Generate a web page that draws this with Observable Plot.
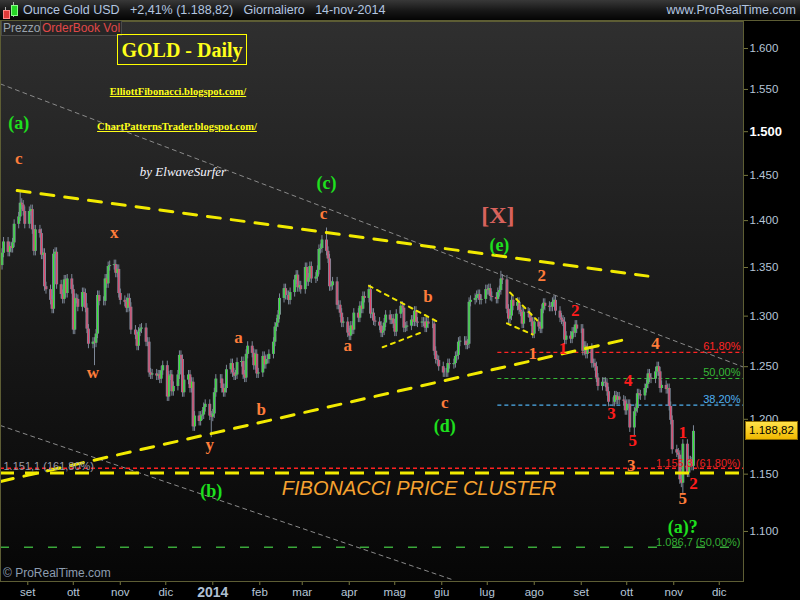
<!DOCTYPE html>
<html>
<head>
<meta charset="utf-8">
<script src="https://cdn.jsdelivr.net/npm/d3@7"></script>
<script src="https://cdn.jsdelivr.net/npm/@observablehq/plot@0.6"></script>
<style>
html,body{margin:0;padding:0;background:#000;}
#wrap{position:relative;width:800px;height:600px;overflow:hidden;background:#000;font-family:"Liberation Sans",Arial,sans-serif;}
#header{position:absolute;left:0;top:0;width:800px;height:20px;background:linear-gradient(#383838,#161616 55%,#040404);border-bottom:1px solid #5d5d34;}
#htext{position:absolute;left:23px;top:3px;font-size:12.5px;color:#b3c6e0;white-space:pre;}
#hsite{position:absolute;right:4px;top:3px;font-size:12.5px;color:#b3c6e0;}
.ic{position:absolute;}
#bg{position:absolute;left:0;top:21px;width:743px;height:560px;background:linear-gradient(#2f2f2f,#1c1c1c 45%,#060606);}
#chart{position:absolute;left:0;top:21px;}
.tab{position:absolute;top:21px;height:14px;font-size:12px;line-height:14px;padding:0 1px;background:#262626;border:1px solid #4a4a4a;border-top:none;white-space:nowrap;}
#title{position:absolute;left:117px;top:34px;width:128px;height:29px;border:1px solid #ffff00;color:#ffff1a;font:bold 20px "Liberation Serif",serif;text-align:center;line-height:30px;white-space:nowrap;}
.link{position:absolute;color:#ffff1a;font:bold 10.5px "Liberation Serif",serif;text-decoration:underline;white-space:nowrap;transform:translateX(-50%);}
#by{position:absolute;left:183px;top:164px;transform:translateX(-50%);color:#f4f4ff;font:italic 13px "Liberation Serif",serif;white-space:nowrap;}
#copy{position:absolute;left:3px;top:566px;color:#8d9db0;font-size:12px;white-space:nowrap;}
#tag{position:absolute;left:745px;width:51px;height:17px;background:linear-gradient(#ffe24a,#f0b800);border:1px solid #8a6a00;color:#000;font-size:11.5px;line-height:17px;text-align:center;}
</style>
</head>
<body>
<div id="wrap">
  <div id="header">
    <div class="ic" style="left:5px;top:7px;width:1px;height:12px;background:#aaa"></div>
    <div class="ic" style="left:3px;top:10px;width:5px;height:7px;background:#e23a3a;border:1px solid #f88"></div>
    <div class="ic" style="left:13px;top:2px;width:1px;height:15px;background:#aaa"></div>
    <div class="ic" style="left:11px;top:5px;width:5px;height:9px;background:#26d626;border:1px solid #8f8"></div>
    <div id="htext">Ounce Gold USD   +2,41% (1.188,82)   Giornaliero   14-nov-2014</div>
    <div id="hsite">www.ProRealTime.com</div>
  </div>
  <div id="bg"></div>
  <div id="chart"></div>
  <div class="tab" style="left:1px;color:#9aa3ad">Prezzo</div>
  <div class="tab" style="left:40px;color:#e04848">OrderBook Vol</div>
  <div id="title">GOLD - Daily</div>
  <div class="link" style="left:178px;top:86px">ElliottFibonacci.blogspot.com/</div>
  <div class="link" style="left:177px;top:121px">ChartPatternsTrader.blogspot.com/</div>
  <div id="by">by ElwaveSurfer</div>
  <div id="copy">© ProRealTime.com</div>
</div>
<script>
// ---- Daily closes (USD/oz), one array per month ----
const aug2013 = [1365,1377,1366,1372,1370,1376,1396,1404,1419,1417,1410,1396];
const sep2013 = [1410,1412,1390,1367,1390,1386,1363,1365,1330,1327,1316,1307,1364,1366,1332,1322,1317,1337,1323,1338,1327];
const oct2013 = [1286,1318,1317,1309,1324,1323,1308,1287,1272,1274,1273,1282,1321,1315,1315,1338,1333,1351,1352,1353,1344,1348,1323];
const nov2013 = [1316,1314,1308,1318,1309,1286,1281,1270,1284,1287,1288,1274,1274,1244,1242,1243,1241,1242,1238,1246,1251];
const dec2013 = [1221,1241,1242,1226,1231,1242,1261,1257,1225,1237,1242,1229,1235,1193,1203,1198,1203,1204,1211,1214,1203,1202];
const jan2014 = [1205,1225,1238,1238,1229,1225,1229,1247,1253,1244,1241,1242,1254,1255,1242,1239,1262,1270,1263,1251,1262,1243,1244];
const feb2014 = [1260,1252,1257,1257,1262,1274,1289,1293,1301,1318,1328,1321,1321,1316,1324,1337,1342,1329,1331,1327];
const mar2014 = [1350,1335,1339,1351,1338,1340,1347,1369,1370,1379,1367,1359,1330,1331,1335,1311,1311,1303,1293,1294,1283];
const apr2014 = [1280,1290,1286,1303,1298,1310,1307,1320,1318,1327,1302,1303,1295,1294,1290,1283,1285,1293,1301,1296,1297,1292];
const may2014 = [1284,1302,1310,1308,1288,1289,1290,1296,1294,1305,1294,1293,1294,1294,1288,1294,1292,1292,1265,1257,1256,1250];
const jun2014 = [1244,1244,1244,1253,1252,1253,1260,1261,1274,1275,1275,1271,1272,1314,1316,1318,1321,1322,1316,1317,1327];
const jul2014 = [1326,1328,1320,1319,1317,1324,1326,1338,1337,1307,1297,1300,1316,1310,1314,1306,1304,1292,1304,1303,1298,1294,1282];
const aug2014 = [1294,1289,1287,1307,1313,1310,1309,1309,1314,1316,1305,1298,1296,1294,1276,1280,1277,1284,1283,1291,1287];
const sep2014 = [1287,1265,1270,1262,1268,1253,1253,1250,1239,1231,1235,1235,1234,1226,1216,1216,1222,1218,1221,1218,1217,1208];
const oct2014 = [1214,1214,1192,1207,1210,1224,1223,1222,1229,1233,1243,1239,1238,1245,1250,1245,1229,1232,1228,1229,1212,1199,1172];
const nov2014 = [1169,1167,1145,1142,1177,1151,1162,1161,1157,1188.82];
const firstOpen = 1352;
const keyHighs = [["2013-08-27",1433],["2014-03-17",1392],["2014-07-10",1346],["2014-11-14",1194]];
const keyLows  = [["2013-10-15",1251],["2013-12-31",1183],["2014-10-06",1184],["2014-11-07",1133]];

// ---- Drawn studies (date, price) ----
const upperTrend = [["2013-08-25",1433],["2014-10-15",1341]];
const lowerTrend = [["2013-08-14",1143.5],["2014-09-30",1276.6]];
const greyUpper  = [["2013-08-14",1556.6],["2014-12-17",1249.6]];
const greyLower  = [["2013-08-14",1194.2],["2014-06-09",1059.2]];
const tri1Upper  = [["2014-04-14",1331],["2014-05-31",1293]];
const tri1Lower  = [["2014-04-23",1269],["2014-05-20",1284.5]];
const tri2Upper  = [["2014-07-16",1324],["2014-08-03",1295.6]];
const tri2Lower  = [["2014-07-14",1292.7],["2014-07-31",1281.6]];
const clusterLevel = 1151.1;
const ext618Level = 1155.3;
const ext50Level = 1086.7;
const fibStart = "2014-07-08";
const fibLevels = [1264, 1238.6, 1213.3];
const fibNames  = ["61,80%","50,00%","38,20%"];
const fibColors = ["#ff2424","#36b836","#4fb0f0"];

// ---- Wave labels ----
const orangeLabels = [
  ["2013-08-26",1469,"c"],["2013-10-28",1387,"x"],["2013-10-14",1244,"w"],["2013-12-30",1177,"y"],
  ["2014-01-18",1279,"a"],["2014-02-02",1209,"b"],["2014-03-15",1408,"c"],["2014-03-31",1271,"a"],
  ["2014-05-23",1320,"b"],["2014-06-03",1216,"c"],["2014-08-06",1342,"2"],["2014-07-31",1263,"1"],
  ["2014-10-20",1273,"4"],["2014-10-04",1158,"3"],["2014-11-07",1128.5,"5"]
];
const redLabels = [
  ["2014-08-28",1306,"2"],["2014-08-20",1268,"1"],["2014-10-02",1237,"4"],["2014-09-21",1205,"3"],
  ["2014-10-05",1180,"5"],["2014-11-07",1188,"1"],["2014-11-14",1142,"2"]
];
const greenLabels = [
  ["2013-08-26",1510,"(a)"],["2014-03-17",1441,"(c)"],["2013-12-31",1135,"(b)"],
  ["2014-06-03",1194,"(d)"],["2014-07-09",1373,"(e)"],["2014-11-07",1104,"(a)?"]
];
const xLabel = [["2014-07-08",1405.5,"[X]"]];
const clusterText = [["2014-05-17",1137.4,"FIBONACCI PRICE CLUSTER"]];

// ---- Axes ----
const yTicks = [1100,1150,1200,1250,1300,1350,1400,1450,1500,1550,1600];
const monthNames = ["gen","feb","mar","apr","mag","giu","lug","ago","set","ott","nov","dic"];
const lastPrice = 1188.82;

const parse = d3.utcParse("%Y-%m-%d");
const months = [
  [2013,8,15,aug2013],[2013,9,1,sep2013],[2013,10,1,oct2013],[2013,11,1,nov2013],[2013,12,1,dec2013],
  [2014,1,1,jan2014],[2014,2,1,feb2014],[2014,3,1,mar2014],[2014,4,1,apr2014],[2014,5,1,may2014],
  [2014,6,1,jun2014],[2014,7,1,jul2014],[2014,8,1,aug2014],[2014,9,1,sep2014],[2014,10,1,oct2014],[2014,11,1,nov2014]
];
const hiMap = new Map(keyHighs), loMap = new Map(keyLows);
const fmtDay = d3.utcFormat("%Y-%m-%d");
const candles = [];
let prev = firstOpen;
for (const [yr, mo, start, closes] of months) {
  let i = 0;
  for (let d = start; i < closes.length; d++) {
    const dt = new Date(Date.UTC(yr, mo - 1, d));
    const wd = dt.getUTCDay();
    if (wd === 0 || wd === 6) continue;
    const c = closes[i++], o = prev;
    const key = fmtDay(dt);
    const hi = hiMap.get(key) ?? Math.max(o, c) * 1.0035;
    const lo = loMap.get(key) ?? Math.min(o, c) * 0.9965;
    candles.push({date: dt, open: o, close: c, high: hi, low: lo});
    prev = c;
  }
}
const pts = a => a.map(([d, v]) => ({date: parse(d), v}));
const lbl = a => a.map(([d, v, t]) => ({date: parse(d), v, t}));
const monthTicks = d3.utcMonth.range(parse("2013-09-01"), parse("2014-12-02"));
const fibRows = fibLevels.map((v, i) => ({v, name: fibNames[i], color: fibColors[i]}));
const numFmt = d => d3.format(",")(d).replace(/,/g, ".");

const serif = "Liberation Serif, Times New Roman, serif";
const chart = Plot.plot({
  width: 800, height: 579,
  marginLeft: 0, marginRight: 57, marginTop: 0, marginBottom: 19,
  style: {background: "transparent", color: "#b6c6d8", fontFamily: "Liberation Sans, Arial, sans-serif", fontSize: "11.5px", overflow: "visible"},
  x: {type: "utc", domain: [parse("2013-08-14"), parse("2014-12-17")]},
  y: {type: "log", domain: [1058.1, 1633.9]},
  marks: [
    Plot.line(pts(greyUpper), {x: "date", y: "v", stroke: "#8a8a8a", strokeWidth: 1, strokeDasharray: "4,4"}),
    Plot.line(pts(greyLower), {x: "date", y: "v", stroke: "#8a8a8a", strokeWidth: 1, strokeDasharray: "4,4"}),
    Plot.ruleY(fibRows, {y: "v", x1: parse(fibStart), x2: parse("2014-12-17"), stroke: "color", strokeWidth: 1.2, strokeDasharray: "4,3"}),
    Plot.ruleY([ext50Level], {stroke: "#3aa83a", strokeWidth: 1.5, strokeDasharray: "9,15"}),
    Plot.ruleY([ext618Level], {stroke: "#ff2020", strokeWidth: 1.6, strokeDasharray: "4,3"}),
    Plot.ruleX(candles, {x: "date", y1: "low", y2: "high", stroke: "#7e8898", strokeWidth: 1}),
    Plot.ruleX(candles, {x: "date", y1: "open", y2: "close", stroke: "#7e8898", strokeWidth: 3}),
    Plot.ruleX(candles, {x: "date", y1: "open", y2: "close", stroke: d => d.close >= d.open ? "#2fe82f" : "#e4456b", strokeWidth: 1.2}),
    Plot.ruleY([clusterLevel], {stroke: "#f2ea00", strokeWidth: 3, strokeDasharray: "14,11"}),
    Plot.line(pts(upperTrend), {x: "date", y: "v", stroke: "#f2ea00", strokeWidth: 3, strokeDasharray: "13,11"}),
    Plot.line(pts(lowerTrend), {x: "date", y: "v", stroke: "#f2ea00", strokeWidth: 3, strokeDasharray: "13,11"}),
    Plot.line(pts(tri1Upper), {x: "date", y: "v", stroke: "#eee400", strokeWidth: 2, strokeDasharray: "4,5"}),
    Plot.line(pts(tri1Lower), {x: "date", y: "v", stroke: "#eee400", strokeWidth: 2, strokeDasharray: "4,5"}),
    Plot.line(pts(tri2Upper), {x: "date", y: "v", stroke: "#eee400", strokeWidth: 2, strokeDasharray: "4,5"}),
    Plot.line(pts(tri2Lower), {x: "date", y: "v", stroke: "#eee400", strokeWidth: 2, strokeDasharray: "4,5"}),
    Plot.text(fibRows, {y: "v", text: "name", fill: "color", frameAnchor: "right", textAnchor: "end", dx: -3, dy: -6, fontSize: 11}),
    Plot.text([ext618Level], {y: d => d, text: ["1.155,3 (61,80%)"], fill: "#e82020", frameAnchor: "right", textAnchor: "end", dx: -3, dy: -5, fontSize: 11}),
    Plot.text([ext50Level], {y: d => d, text: ["1.086,7 (50,00%)"], fill: "#34b034", frameAnchor: "right", textAnchor: "end", dx: -3, dy: -5, fontSize: 11}),
    Plot.text([clusterLevel], {y: d => d, text: ["1.151,1 (161,80%)"], fill: "#9a9aa6", frameAnchor: "left", textAnchor: "start", dx: 3, dy: -6, fontSize: 11}),
    Plot.text(lbl(clusterText), {x: "date", y: "v", text: "t", fill: "#f6a230", fontSize: 20, fontStyle: "italic", fontFamily: "Liberation Sans, Arial, sans-serif"}),
    Plot.text(lbl(orangeLabels), {x: "date", y: "v", text: "t", fill: "#ff7d3a", fontSize: 17, fontWeight: "bold", fontFamily: serif}),
    Plot.text(lbl(redLabels), {x: "date", y: "v", text: "t", fill: "#ff1c1c", fontSize: 17, fontWeight: "bold", fontFamily: serif}),
    Plot.text(lbl(greenLabels), {x: "date", y: "v", text: "t", fill: "#1ee01e", fontSize: 18, fontWeight: "bold", fontFamily: serif}),
    Plot.text(lbl(xLabel), {x: "date", y: "v", text: "t", fill: "#d8625c", fontSize: 24, fontWeight: "bold", fontFamily: serif}),
    Plot.axisY({anchor: "right", ticks: yTicks, tickFormat: numFmt, tickSize: 4, tickPadding: 2}),
    Plot.axisX({ticks: monthTicks, tickFormat: d => d.getUTCMonth() === 0 ? String(d.getUTCFullYear()) : monthNames[d.getUTCMonth()], tickSize: 4, tickPadding: 2}),
    Plot.frame({stroke: "#5d5d34"})
  ]
});
document.getElementById("chart").appendChild(chart);

const svg = d3.select(chart);
svg.selectAll('g[aria-label="y-axis tick"], g[aria-label="x-axis tick"]').attr("stroke", "#77773f");
svg.selectAll('g[aria-label="y-axis tick label"] text').each(function () {
  if (this.textContent === "1.500") d3.select(this).attr("font-weight", "bold").attr("fill", "#ffffff").attr("font-size", 13);
});
svg.selectAll('g[aria-label="x-axis tick label"] text').each(function () {
  if (/^\d{4}$/.test(this.textContent)) d3.select(this).attr("font-weight", "bold").attr("font-size", 14).attr("fill", "#aebfd2");
});

// last price tag positioned with the chart's y scale
const yPix = chart.scale("y").apply(lastPrice);
const tag = document.createElement("div");
tag.id = "tag";
tag.textContent = numFmt(Math.floor(lastPrice)) + "," + String(Math.round((lastPrice % 1) * 100)).padStart(2, "0");
tag.style.top = (21 + yPix - 9.5) + "px";
document.getElementById("wrap").appendChild(tag);
</script>
</body>
</html>
